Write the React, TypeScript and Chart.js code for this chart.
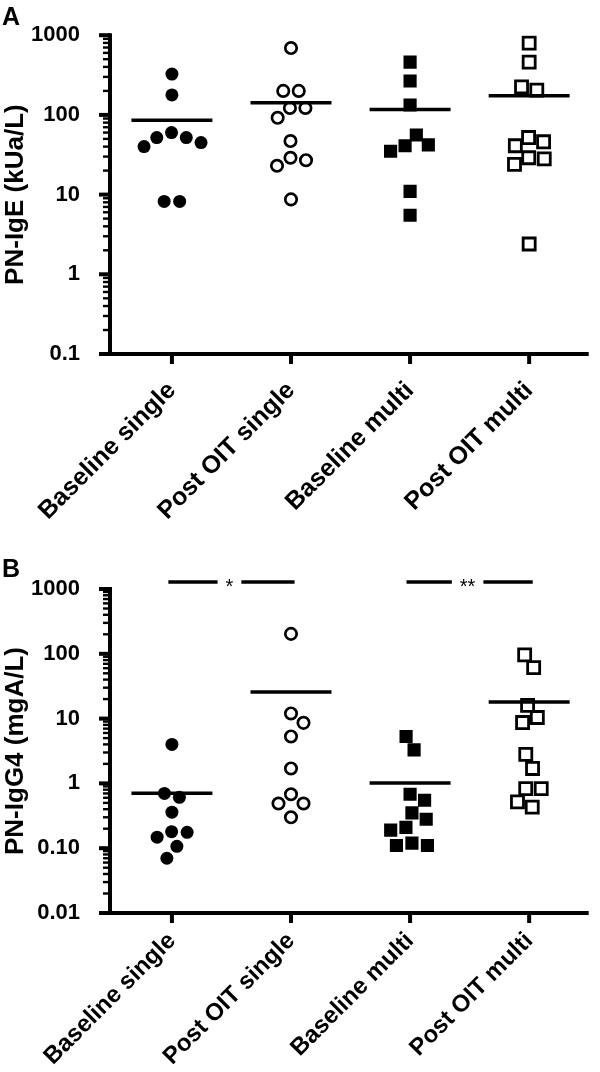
import React, { useEffect, useRef } from 'react';
import { Chart, registerables } from 'chart.js';

Chart.register(...registerables);

const FONT = "'Liberation Sans', Arial, Helvetica, sans-serif";

// ---------- data ----------
const categories = ['Baseline single', 'Post OIT single', 'Baseline multi', 'Post OIT multi'];

// Panel A: PN-IgE (kUa/L)
const igeBaselineSingle = [325, 178, 60, 52, 52, 45, 40, 8.2, 8.2];
const igePostSingle = [690, 200, 200, 122, 122, 92, 47, 29, 27, 23, 8.7];
const igeBaselineMulti = [460, 266, 133, 56, 42, 41, 35, 11, 5.5];
const igePostMulti = [795, 460, 224, 205, 52, 46, 41, 29, 28, 24, 2.4];

// Panel B: PN-IgG4 (mgA/L)
const igg4BaselineSingle = [4.0, 0.7, 0.61, 0.36, 0.18, 0.176, 0.148, 0.107, 0.07];
const igg4PostSingle = [203, 12, 8.6, 5.3, 1.7, 0.68, 0.49, 0.49, 0.3];
const igg4BaselineMulti = [5.3, 3.3, 0.68, 0.55, 0.35, 0.28, 0.21, 0.19, 0.12, 0.11, 0.11];
const igg4PostMulti = [96, 61, 16, 10.4, 8.7, 2.8, 1.7, 0.83, 0.83, 0.52, 0.43];

const yTickValuesA = [0.1, 1, 10, 100, 1000];
const yTickLabelsA = ['0.1', '1', '10', '100', '1000'];
const yTickValuesB = [0.01, 0.1, 1, 10, 100, 1000];
const yTickLabelsB = ['0.01', '0.10', '1', '10', '100', '1000'];

const significanceB = [
  { from: 1, to: 2, label: '*' },
  { from: 3, to: 4, label: '**' },
];
const significanceLevelB = 1280;

// ---------- layout / style ----------
const W = 600;
const H = 536;
const AREA_LEFT = 110;
const AREA_RIGHT = 590;
const X_MIN = 0.48;
const X_MAX = 4.5;
const MEAN_HALF = 0.34;
const SWARM_GAP = 15.5;

const markerStyles = [
  { pointStyle: 'circle', backgroundColor: '#000', pointRadius: 6.5, borderWidth: 0 },
  { pointStyle: 'circle', backgroundColor: '#fff', pointRadius: 5.7, borderWidth: 2.7 },
  { pointStyle: 'rect', backgroundColor: '#000', pointRadius: 9.3, borderWidth: 0 },
  { pointStyle: 'rect', backgroundColor: '#fff', pointRadius: 8.5, borderWidth: 2.8 },
];

type Sig = { from: number; to: number; label: string };
type PanelProps = {
  letter: string;
  yTitle: string;
  groups: number[][];
  yMin: number;
  yMax: number;
  tickValues: number[];
  tickLabels: string[];
  areaTop: number;
  areaBottom: number;
  labelSize: number;
  labelPad: number;
  significance?: Sig[];
  sigLevel?: number;
};

function swarm(ys: number[], d: number): number[] {
  const n = ys.length;
  const order = ys.map((_, i) => i).sort((a, b) => ys[a] - ys[b]);
  const xs = new Array(n).fill(0);
  const placed: number[] = [];
  const collides = (i: number, x: number, skip?: Set<number>) => {
    for (const j of placed) {
      if (j === i || (skip && skip.has(j))) continue;
      if (Math.hypot(xs[j] - x, ys[j] - ys[i]) < d - 0.01) return true;
    }
    return false;
  };
  for (const i of order) {
    let chosen = 0;
    for (let k = 0; k < 4000; k++) {
      const step = Math.ceil(k / 2) * 0.25;
      const cand = k % 2 === 1 ? step : -step;
      if (!collides(i, cand)) {
        chosen = cand;
        break;
      }
    }
    xs[i] = chosen;
    placed.push(i);
  }
  // centre each touching cluster
  const comp = new Array(n).fill(-1);
  let c = 0;
  for (let i = 0; i < n; i++) {
    if (comp[i] >= 0) continue;
    const stack = [i];
    comp[i] = c;
    while (stack.length) {
      const a = stack.pop() as number;
      for (let b = 0; b < n; b++) {
        if (comp[b] < 0 && Math.hypot(xs[a] - xs[b], ys[a] - ys[b]) < d * 1.08) {
          comp[b] = c;
          stack.push(b);
        }
      }
    }
    c++;
  }
  for (let k = 0; k < c; k++) {
    const members: number[] = [];
    for (let i = 0; i < n; i++) if (comp[i] === k) members.push(i);
    const mean = members.reduce((s, i) => s + xs[i], 0) / members.length;
    const set = new Set(members);
    const old = members.map((i) => xs[i]);
    members.forEach((i) => (xs[i] -= mean));
    const bad = members.some((i) => collides(i, xs[i], set));
    if (bad) members.forEach((i, m) => (xs[i] = old[m]));
  }
  return xs;
}

function Panel(p: PanelProps) {
  const ref = useRef<HTMLCanvasElement>(null);

  useEffect(() => {
    if (!ref.current) return;
    const labelFor = (v: number) => {
      const i = p.tickValues.findIndex((t) => Math.abs(Math.log10(t) - Math.log10(v)) < 1e-6);
      return i >= 0 ? p.tickLabels[i] : '';
    };
    const means = p.groups.map((vals) => vals.reduce((s, v) => s + v, 0) / vals.length);
    const meanData: any[] = [];
    means.forEach((m, g) => {
      meanData.push({ x: g + 1 - MEAN_HALF, y: m }, { x: g + 1 + MEAN_HALF, y: m }, { x: g + 1.5, y: null });
    });

    const datasets: any[] = p.groups.map((vals, g) => ({
      type: 'scatter',
      label: categories[g],
      data: vals.map((v) => ({ x: g + 1, y: v })),
      pointStyle: markerStyles[g].pointStyle,
      pointRadius: markerStyles[g].pointRadius,
      pointHoverRadius: markerStyles[g].pointRadius,
      backgroundColor: markerStyles[g].backgroundColor,
      borderColor: '#000',
      borderWidth: markerStyles[g].borderWidth,
      order: 1,
    }));
    datasets.push({
      type: 'line',
      label: 'mean',
      data: meanData,
      borderColor: '#000',
      borderWidth: 3.5,
      pointRadius: 0,
      spanGaps: false,
      fill: false,
      order: 0,
    });

    const decor = {
      id: 'decor',
      afterDraw(chart: any) {
        const { ctx, chartArea: a, scales } = chart;
        const xs = scales.x;
        const ys = scales.y;
        ctx.save();
        ctx.strokeStyle = '#000';
        ctx.fillStyle = '#000';
        ctx.lineCap = 'butt';
        const line = (x1: number, y1: number, x2: number, y2: number, w: number) => {
          ctx.lineWidth = w;
          ctx.beginPath();
          ctx.moveTo(x1, y1);
          ctx.lineTo(x2, y2);
          ctx.stroke();
        };
        const lo = Math.round(Math.log10(p.yMin));
        const hi = Math.round(Math.log10(p.yMax));
        for (let e = lo; e <= hi; e++) {
          for (let m = 1; m <= 9; m++) {
            const v = m * Math.pow(10, e);
            if (v > p.yMax * 1.0001) break;
            const y = ys.getPixelForValue(v);
            const major = m === 1;
            line(a.left - (major ? 11 : 7), y, a.left, y, major ? 4 : 2.4);
          }
        }
        line(a.left, a.top - 2, a.left, a.bottom + 2, 4);
        line(a.left - 2, a.bottom, a.right, a.bottom, 4);
        categories.forEach((_, i) => {
          const x = xs.getPixelForValue(i + 1);
          line(x, a.bottom, x, a.bottom + 10, 4);
        });
        ctx.font = `bold 25px ${FONT}`;
        ctx.textAlign = 'left';
        ctx.textBaseline = 'alphabetic';
        ctx.fillText(p.letter, 2, p.letter === 'A' ? 25 : 41);
        if (p.significance && p.sigLevel) {
          const y = ys.getPixelForValue(p.sigLevel);
          ctx.font = `20px ${FONT}`;
          ctx.textAlign = 'center';
          p.significance.forEach((s) => {
            const x1 = xs.getPixelForValue(s.from - 0.03);
            const x2 = xs.getPixelForValue(s.to + 0.03);
            const xm = (xs.getPixelForValue(s.from) + xs.getPixelForValue(s.to)) / 2 - 2;
            const half = ctx.measureText(s.label).width / 2 + 8;
            line(x1, y, xm - half, y, 3.5);
            line(xm + half, y, x2, y, 3.5);
            ctx.fillText(s.label, xm, y + 11);
          });
        }
        ctx.restore();
      },
    };

    const chart = new Chart(ref.current, {
      type: 'scatter',
      data: { datasets },
      options: {
        responsive: false,
        animation: false,
        devicePixelRatio: 1,
        layout: { padding: { top: p.areaTop, right: W - AREA_RIGHT, bottom: 0, left: 0 } },
        plugins: { legend: { display: false }, tooltip: { enabled: false } },
        scales: {
          x: {
            type: 'linear',
            min: X_MIN,
            max: X_MAX,
            afterBuildTicks: (s: any) => {
              s.ticks = categories.map((_, i) => ({ value: i + 1 }));
            },
            afterFit: (s: any) => {
              s.height = H - p.areaBottom;
            },
            ticks: {
              callback: (v: any) => categories[Math.round(Number(v)) - 1] ?? '',
              minRotation: 45,
              maxRotation: 45,
              autoSkip: false,
              padding: p.labelPad,
              color: '#000',
              font: { family: FONT, size: p.labelSize, weight: 'bold' },
            },
            grid: { display: false },
            border: { display: false },
          },
          y: {
            type: 'logarithmic',
            min: p.yMin,
            max: p.yMax,
            afterBuildTicks: (s: any) => {
              s.ticks = p.tickValues.map((v) => ({ value: v }));
            },
            afterFit: (s: any) => {
              s.width = AREA_LEFT;
            },
            ticks: {
              callback: (v: any) => labelFor(Number(v)),
              autoSkip: false,
              padding: 22,
              color: '#000',
              font: { family: FONT, size: 22, weight: 'bold' },
            },
            grid: { display: false },
            border: { display: false },
            title: {
              display: true,
              text: p.yTitle,
              color: '#000',
              padding: { top: 0, bottom: 0 },
              font: { family: FONT, size: 26, weight: 'bold' },
            },
          },
        },
      },
      plugins: [decor],
    } as any);

    const xs = chart.scales.x;
    const ys = chart.scales.y;
    const pxPerUnit = Math.abs(xs.getPixelForValue(2) - xs.getPixelForValue(1));
    p.groups.forEach((vals, g) => {
      const yp = vals.map((v) => ys.getPixelForValue(v));
      const off = swarm(yp, SWARM_GAP);
      (chart.data.datasets[g] as any).data = vals.map((v, i) => ({ x: g + 1 + off[i] / pxPerUnit, y: v }));
    });
    chart.update();

    return () => chart.destroy();
  }, []);

  return <canvas ref={ref} width={W} height={H} style={{ display: 'block', width: W, height: H }} />;
}

export default function App() {
  return (
    <div style={{ position: 'absolute', top: 0, left: 0, width: W, height: 2 * H, background: '#fff' }}>
      <Panel
        letter="A"
        yTitle="PN-IgE (kUa/L)"
        groups={[igeBaselineSingle, igePostSingle, igeBaselineMulti, igePostMulti]}
        yMin={0.1}
        yMax={1000}
        tickValues={yTickValuesA}
        tickLabels={yTickLabelsA}
        areaTop={34}
        areaBottom={354}
        labelSize={25}
        labelPad={14}
      />
      <Panel
        letter="B"
        yTitle="PN-IgG4 (mgA/L)"
        groups={[igg4BaselineSingle, igg4PostSingle, igg4BaselineMulti, igg4PostMulti]}
        yMin={0.01}
        yMax={1000}
        tickValues={yTickValuesB}
        tickLabels={yTickLabelsB}
        areaTop={53}
        areaBottom={377}
        labelSize={24}
        labelPad={6}
        significance={significanceB}
        sigLevel={significanceLevelB}
      />
    </div>
  );
}
